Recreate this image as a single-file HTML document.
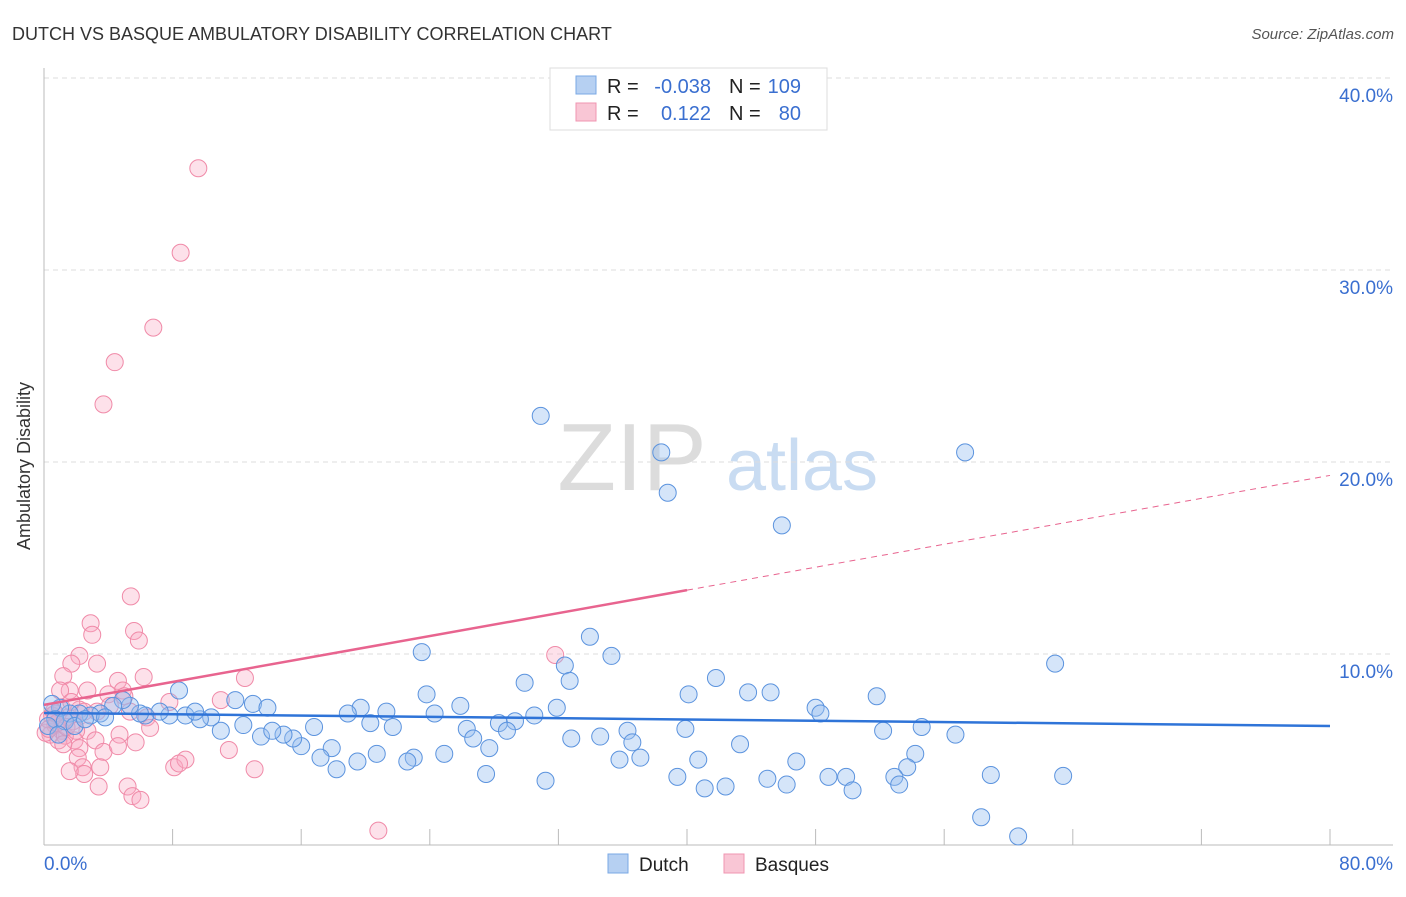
<!DOCTYPE html>
<html><head><meta charset="utf-8"><style>
body{margin:0;background:#fff;font-family:"Liberation Sans",sans-serif;}
svg text{font-family:"Liberation Sans",sans-serif;}
</style></head><body>
<svg width="1406" height="892" xmlns="http://www.w3.org/2000/svg">
<text x="12" y="40" font-size="18" fill="#333">DUTCH VS BASQUE AMBULATORY DISABILITY CORRELATION CHART</text>
<text x="1394" y="39" font-size="15" fill="#555" font-style="italic" text-anchor="end">Source: ZipAtlas.com</text>
<g>
<text x="632" y="490" font-size="96" fill="#dcdcdc" font-family="Liberation Serif" text-anchor="middle">ZIP</text>
<text x="802" y="490" font-size="72" fill="#c9dcf2" text-anchor="middle">atlas</text>
</g>
<g id="grid"></g>
<g id="axes"></g>
<g id="marks"></g>
<text x="20" y="456" font-size="18" fill="#333" transform="rotate(-90 30 456)" text-anchor="middle">Ambulatory Disability</text>
<g>
<rect x="550" y="68" width="277" height="62" fill="#fff" stroke="#ddd"/>
<rect x="576" y="76" width="20" height="18" fill="#b6d0f2" stroke="#7aa8e4"/>
<rect x="576" y="103" width="20" height="18" fill="#f9c6d5" stroke="#f095b1"/>
<text x="607" y="93" font-size="20" fill="#222">R = </text><text x="711" y="93" font-size="20" fill="#3a6fd0" text-anchor="end">-0.038</text>
<text x="729" y="93" font-size="20" fill="#222">N = </text><text x="801" y="93" font-size="20" fill="#3a6fd0" text-anchor="end">109</text>
<text x="607" y="120" font-size="20" fill="#222">R = </text><text x="711" y="120" font-size="20" fill="#3a6fd0" text-anchor="end">0.122</text>
<text x="729" y="120" font-size="20" fill="#222">N = </text><text x="801" y="120" font-size="20" fill="#3a6fd0" text-anchor="end">80</text>
</g>
<g>
<rect x="608" y="854" width="20" height="19" fill="#b6d0f2" stroke="#7aa8e4"/>
<text x="639" y="871" font-size="19" fill="#222">Dutch</text>
<rect x="724" y="854" width="20" height="19" fill="#f9c6d5" stroke="#f095b1"/>
<text x="755" y="871" font-size="19" fill="#222">Basques</text>
</g>
</svg>
<script>
const yTicks=[10,20,30,40];
const yTickLabels=["10.0%","20.0%","30.0%","40.0%"];
const xTickVals=[0,8,16,24,32,40,48,56,64,72,80];
const xEndLabels=["0.0%","80.0%"];
const dutchX=[30.9,38.4,38.8,57.3,45.9,33.96,35.3,23.5,62.9,32.4,29.9,32.7,41.8,40.1,43.8,45.2,51.8,23.8,8.4,48.0,48.3,25.9,31.9,19.7,21.3,18.9,11.9,13.0,13.9,24.3,30.5,29.3,28.3,28.8,26.3,26.7,27.7,20.3,21.7,16.8,32.8,34.6,36.3,36.6,37.1,35.8,39.9,43.3,40.7,46.8,54.6,52.2,56.7,54.2,53.7,52.9,53.2,49.9,48.8,50.3,45.0,46.2,39.4,41.1,42.4,31.2,27.5,58.9,63.4,58.3,60.6,23.0,24.9,22.6,20.7,19.5,18.2,17.9,17.2,16.0,15.5,14.9,13.5,14.2,12.4,11.0,10.4,9.7,8.8,9.4,7.8,7.2,6.3,5.97,5.35,4.9,4.3,3.5,2.9,2.2,1.6,1.0,0.5,0.7,1.3,1.9,0.25,0.9,2.55,3.8];
const dutchY=[22.4,20.5,18.4,20.5,16.7,10.9,9.9,10.1,9.5,9.4,8.5,8.6,8.75,7.9,8.0,8.0,7.8,7.9,8.1,7.2,6.9,7.3,7.2,7.2,7.0,6.9,7.6,7.4,7.2,6.9,6.8,6.5,6.4,6.0,6.1,5.6,5.1,6.4,6.2,6.2,5.6,5.7,6.0,5.4,4.6,4.5,6.1,5.3,4.5,4.4,6.2,6.0,5.8,4.8,4.1,3.6,3.2,3.6,3.6,2.9,3.5,3.2,3.6,3.0,3.1,3.4,3.75,3.7,3.65,1.5,0.5,4.6,4.8,4.4,4.8,4.4,4.0,5.1,4.6,5.2,5.6,5.8,5.7,6.0,6.3,6.0,6.7,6.6,6.8,7.0,6.8,7.0,6.8,6.9,7.3,7.6,7.3,6.9,6.8,6.9,6.9,7.2,7.4,6.6,6.5,6.25,6.25,5.8,6.6,6.7];
const basqueX=[9.6,8.5,6.8,4.4,3.7,5.4,2.9,3.0,5.6,5.9,2.2,1.7,3.3,31.8,6.2,1.2,4.6,12.5,1.6,2.7,4.9,4.0,1.0,5.0,11.0,7.8,4.1,5.35,6.4,2.2,3.3,6.6,2.7,1.9,3.2,4.7,5.7,3.7,4.6,2.2,2.1,2.4,2.5,3.5,1.6,8.1,8.8,8.4,11.5,13.1,5.2,5.5,6.0,3.4,20.8,0.4,0.7,1.1,1.5,0.5,0.1,0.9,1.3,1.8,1.1,1.7,0.25,0.7,2.5,1.2,0.3,0.8,1.4,2.0,0.6];
const basqueY=[35.3,30.9,27.0,25.2,23.0,13.0,11.6,11.0,11.2,10.7,9.9,9.5,9.5,9.95,8.8,8.85,8.6,8.75,8.1,8.1,8.1,7.9,8.1,7.8,7.6,7.5,7.3,7.0,6.7,7.1,7.0,6.15,6.0,5.5,5.5,5.8,5.4,4.9,5.2,5.1,4.6,4.1,3.75,4.1,3.9,4.1,4.5,4.3,5.0,4.0,3.1,2.6,2.4,3.1,0.8,5.8,6.3,6.0,6.7,6.8,5.9,5.5,5.75,6.5,7.2,7.5,6.6,6.9,7.0,5.3,6.1,6.4,6.2,6.0,7.0];
const dutchTrend=[6.93,6.25];
const basqueTrend=[7.35,19.3];
const basqueSolidEnd=40;
const NS="http://www.w3.org/2000/svg";
const X0=44,X1=1330,Y0=846,YPER=19.2;
function sx(v){return X0+(X1-X0)*v/80;}
function sy(v){return Y0-v*YPER;}
function mk(tag,attrs,parent){const e=document.createElementNS(NS,tag);for(const k in attrs)e.setAttribute(k,attrs[k]);document.getElementById(parent).appendChild(e);return e;}
yTicks.forEach((t,i)=>{
 const l=mk('line',{x1:X0,x2:1393,y1:sy(t),y2:sy(t),stroke:'#ddd','stroke-dasharray':'5,4'},'grid');
 
 
 const tx=mk('text',{x:1393,y:sy(t)+24,'font-size':19,fill:'#3a6fd0','text-anchor':'end'},'grid');
 tx.textContent=yTickLabels[i];
 
 
});
const ax=mk('line',{x1:X0,x2:1393,y1:845,y2:845,stroke:'#bbb'},'axes');


const ay=mk('line',{x1:X0,x2:X0,y1:68,y2:845,stroke:'#bbb'},'axes');


xTickVals.forEach(t=>{
 const l=mk('line',{x1:sx(t),x2:sx(t),y1:829,y2:845,stroke:'#bbb'},'axes');
 
 
});
const xl0=mk('text',{x:44,y:870,'font-size':19,fill:'#3a6fd0'},'axes');xl0.textContent=xEndLabels[0];


const xl1=mk('text',{x:1393,y:870,'font-size':19,fill:'#3a6fd0','text-anchor':'end'},'axes');xl1.textContent=xEndLabels[1];


basqueX.forEach((x,i)=>{
 const c=mk('circle',{cx:sx(x),cy:sy(basqueY[i]),r:8.5,fill:'rgba(248,170,195,0.35)',stroke:'#f08aa8','stroke-width':1},'marks');
 
 
});
dutchX.forEach((x,i)=>{
 const c=mk('circle',{cx:sx(x),cy:sy(dutchY[i]),r:8.5,fill:'rgba(150,190,240,0.4)',stroke:'#5b93de','stroke-width':1},'marks');
 
 
});
const bAt=v=>basqueTrend[0]+(basqueTrend[1]-basqueTrend[0])*v/80;
const bt=mk('line',{x1:sx(0),y1:sy(basqueTrend[0]),x2:sx(basqueSolidEnd),y2:sy(bAt(basqueSolidEnd)),stroke:'#e8648f','stroke-width':2.5},'marks');


const bd=mk('line',{x1:sx(basqueSolidEnd),y1:sy(bAt(basqueSolidEnd)),x2:sx(80),y2:sy(basqueTrend[1]),stroke:'#e8648f','stroke-width':1,'stroke-dasharray':'6,5'},'marks');


const dt=mk('line',{x1:sx(0),y1:sy(dutchTrend[0]),x2:sx(80),y2:sy(dutchTrend[1]),stroke:'#2f74d8','stroke-width':2.5},'marks');


</script>
</body></html>
